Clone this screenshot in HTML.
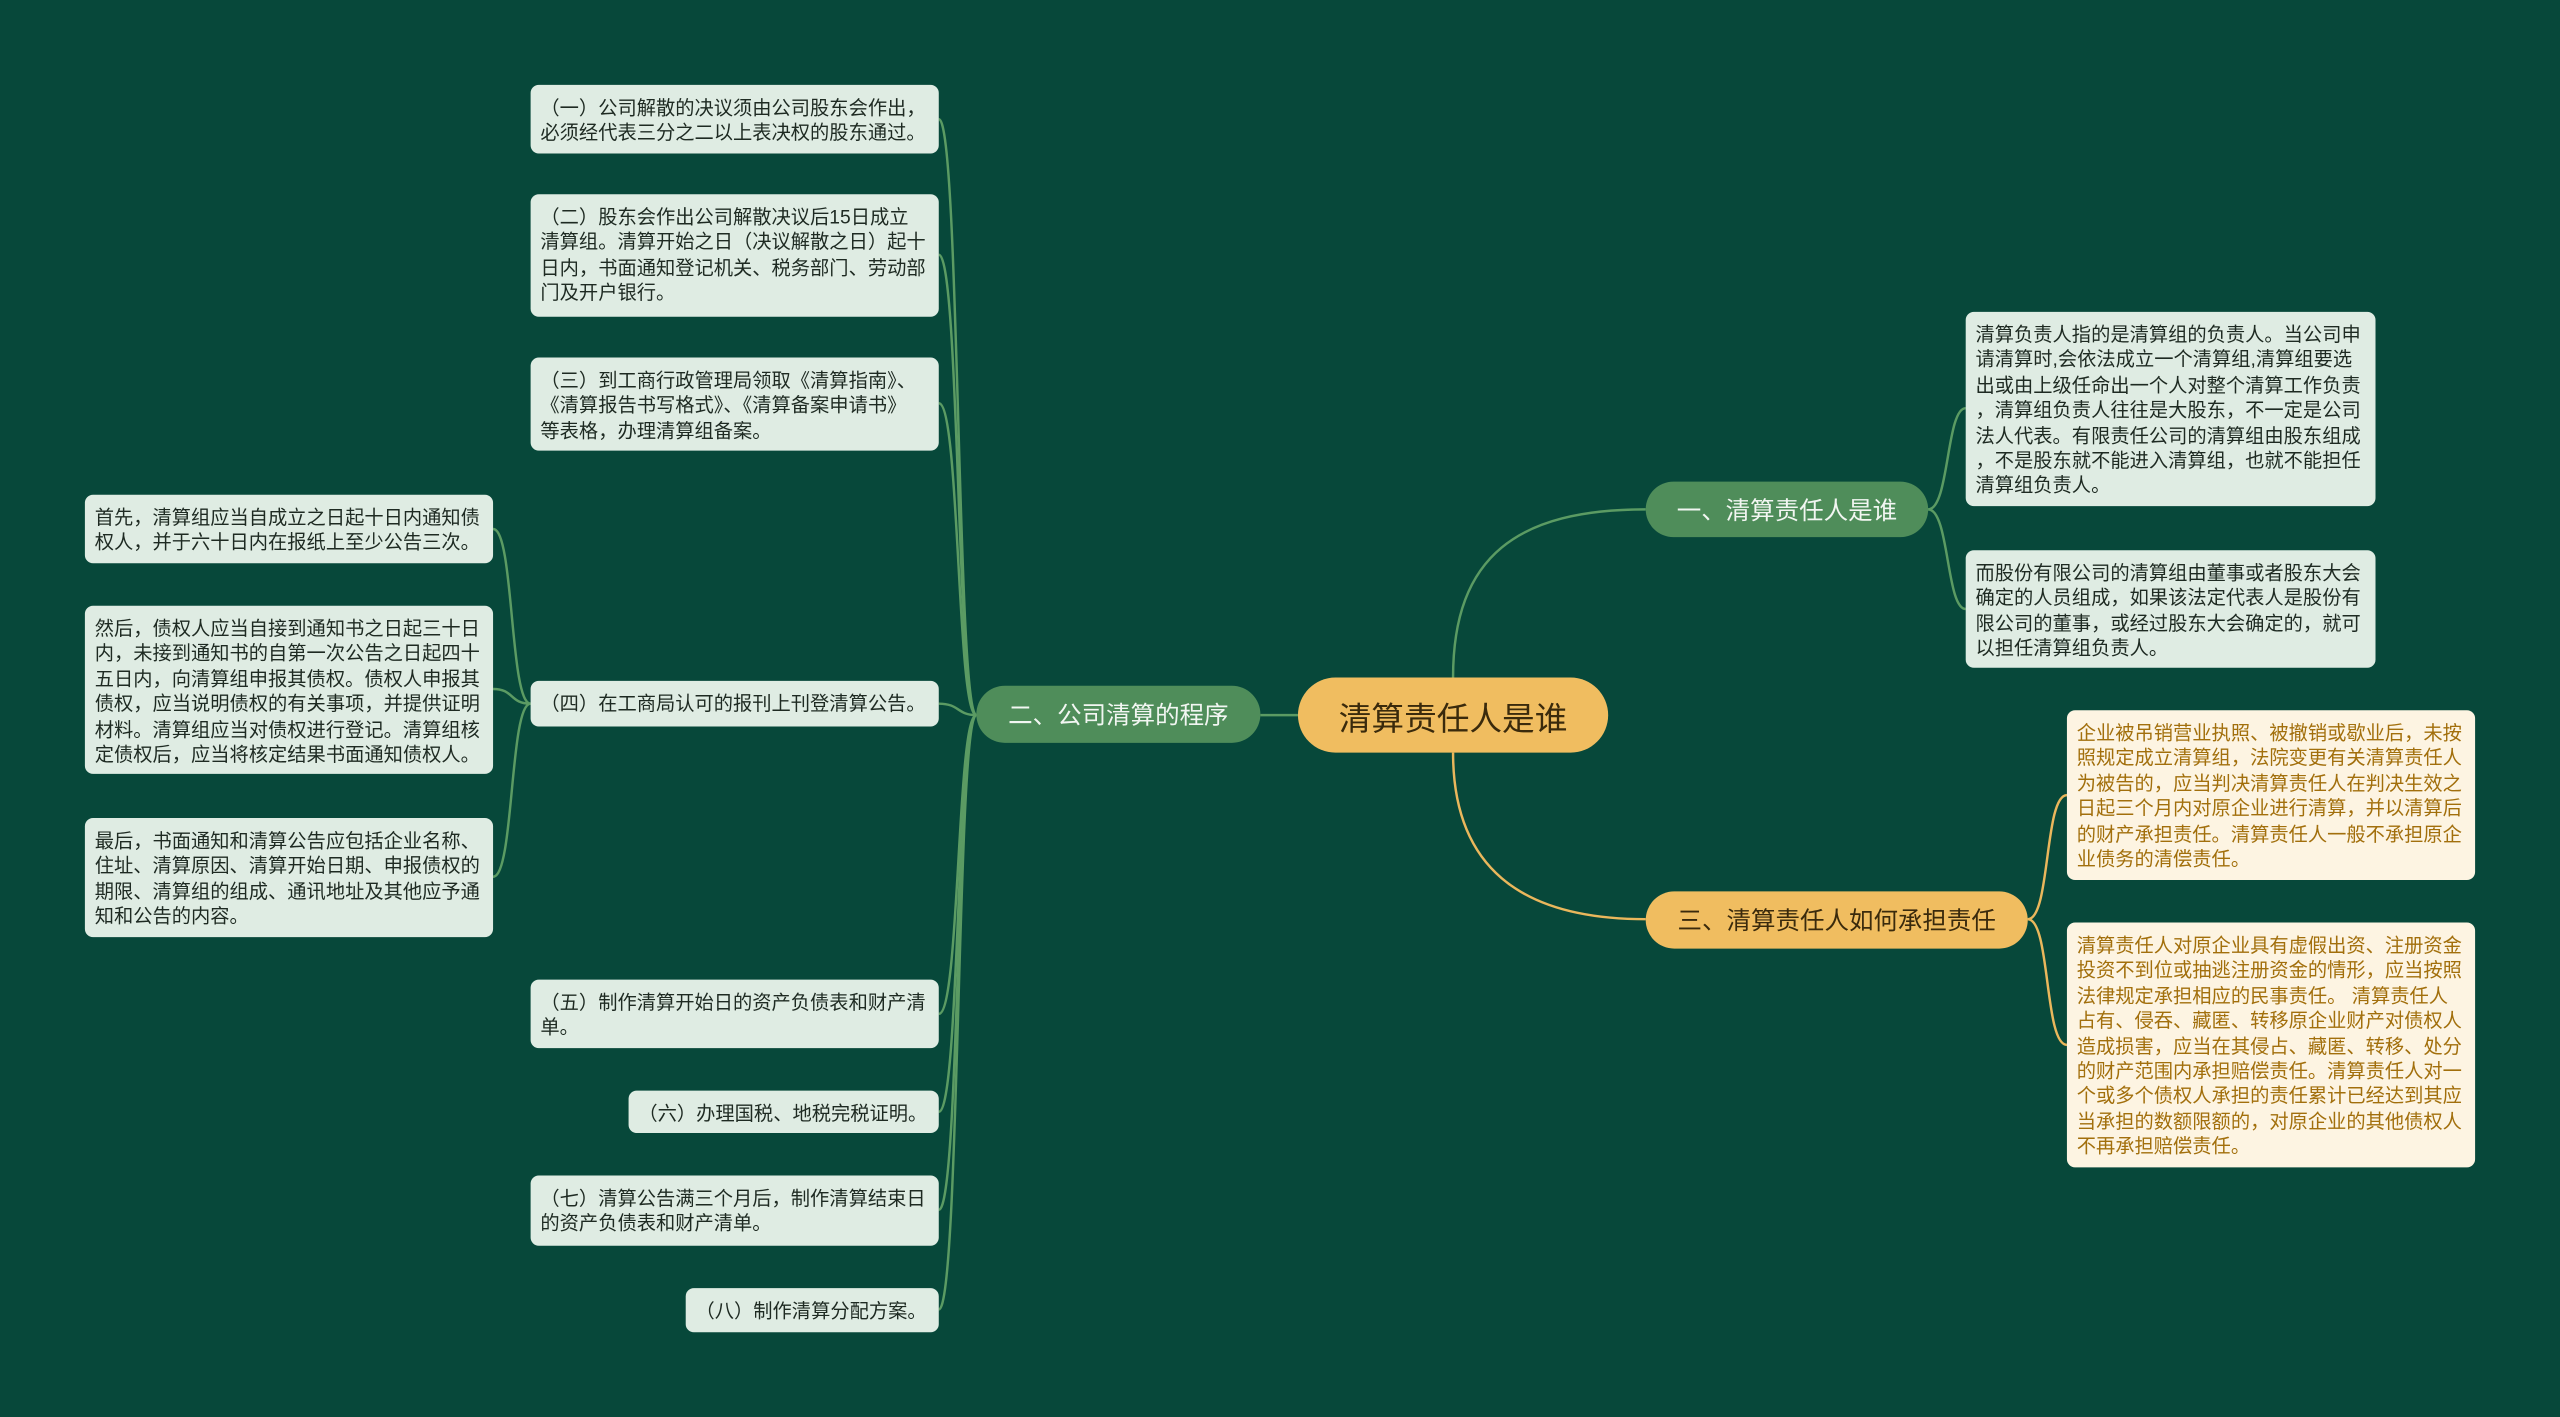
<!DOCTYPE html>
<html><head><meta charset="utf-8"><style>
html,body{margin:0;padding:0;width:2560px;height:1417px;overflow:hidden;background:#07483a;}
#w{position:absolute;left:0;top:0;width:1568px;height:868px;transform:scale(1.63265);transform-origin:0 0;font-family:"Liberation Sans","Noto Sans CJK SC",sans-serif;}
svg{position:absolute;left:0;top:0;}
.n{position:absolute;box-sizing:border-box;border-radius:5px;font-size:11.8px;line-height:15.4px;padding:7px 6px 5px;white-space:nowrap;}
.g{background:#dfece3;color:#1e2a22;}
.o{background:#fdf4e2;color:#a26f0c;}
.b{position:absolute;box-sizing:border-box;border-radius:18px;display:flex;align-items:center;justify-content:center;white-space:nowrap;}
.bg{background:#4f8d5a;color:#f2f6f2;font-size:15px;}
.bo{background:#f0bd60;color:#3a2a0c;font-size:15px;}
</style></head><body><div id="w">
<svg width="1568" height="868" fill="none" stroke-width="1.5">
<g stroke="#5b9b63">
<path d="M890 415 C890 340 930 312 1008 312"/>
<path d="M795 438 L772 438"/>
<path d="M1181 312 C1194 312 1192 250 1204 250"/>
<path d="M1181 312 C1194 312 1192 373 1204 373"/>
<path d="M598 438 C586 438 588 73 575 73"/>
<path d="M598 438 C586 438 588 156 575 156"/>
<path d="M598 438 C586 438 588 247 575 247"/>
<path d="M598 438 C586 438 588 431 575 431"/>
<path d="M598 438 C586 438 588 621 575 621"/>
<path d="M598 438 C586 438 588 681 575 681"/>
<path d="M598 438 C586 438 588 741 575 741"/>
<path d="M598 438 C586 438 588 802 575 802"/>
<path d="M325 431 C312 431 315 324 302 324"/>
<path d="M325 431 C312 431 315 422 302 422"/>
<path d="M325 431 C312 431 315 537 302 537"/>
</g>
<g stroke="#eab75c">
<path d="M890 461 C890 530 930 563 1008 563"/>
<path d="M1242 563 C1256 563 1252 487 1266 487"/>
<path d="M1242 563 C1256 563 1252 640 1266 640"/>
</g>
</svg>
<div class="b bo" style="left:795px;top:415px;width:190px;height:46px;border-radius:23px;font-size:20px;">清算责任人是谁</div>
<div class="b bg" style="left:1008px;top:295px;width:173px;height:34px;">一、清算责任人是谁</div>
<div class="b bo" style="left:1008px;top:546px;width:234px;height:35px;">三、清算责任人如何承担责任</div>
<div class="b bg" style="left:598px;top:420px;width:174px;height:35px;">二、公司清算的程序</div>

<div class="n g" style="left:1204px;top:191px;width:251px;height:119px;">清算负责人指的是清算组的负责人。当公司申<br>请清算时,会依法成立一个清算组,清算组要选<br>出或由上级任命出一个人对整个清算工作负责<br>，清算组负责人往往是大股东，不一定是公司<br>法人代表。有限责任公司的清算组由股东组成<br>，不是股东就不能进入清算组，也就不能担任<br>清算组负责人。</div>
<div class="n g" style="left:1204px;top:337px;width:251px;height:72px;">而股份有限公司的清算组由董事或者股东大会<br>确定的人员组成，如果该法定代表人是股份有<br>限公司的董事，或经过股东大会确定的，就可<br>以担任清算组负责人。</div>
<div class="n o" style="left:1266px;top:435px;width:250px;height:104px;">企业被吊销营业执照、被撤销或歇业后，未按<br>照规定成立清算组，法院变更有关清算责任人<br>为被告的，应当判决清算责任人在判决生效之<br>日起三个月内对原企业进行清算，并以清算后<br>的财产承担责任。清算责任人一般不承担原企<br>业债务的清偿责任。</div>
<div class="n o" style="left:1266px;top:565px;width:250px;height:150px;">清算责任人对原企业具有虚假出资、注册资金<br>投资不到位或抽逃注册资金的情形，应当按照<br>法律规定承担相应的民事责任。 清算责任人<br>占有、侵吞、藏匿、转移原企业财产对债权人<br>造成损害，应当在其侵占、藏匿、转移、处分<br>的财产范围内承担赔偿责任。清算责任人对一<br>个或多个债权人承担的责任累计已经达到其应<br>当承担的数额限额的，对原企业的其他债权人<br>不再承担赔偿责任。</div>

<div class="n g" style="left:325px;top:52px;width:250px;height:42px;">（一）公司解散的决议须由公司股东会作出，<br>必须经代表三分之二以上表决权的股东通过。</div>
<div class="n g" style="left:325px;top:119px;width:250px;height:75px;">（二）股东会作出公司解散决议后15日成立<br>清算组。清算开始之日（决议解散之日）起十<br>日内，书面通知登记机关、税务部门、劳动部<br>门及开户银行。</div>
<div class="n g" style="left:325px;top:219px;width:250px;height:57px;">（三）到工商行政管理局领取《清算指南》、<br>《清算报告书写格式》、《清算备案申请书》<br>等表格，办理清算组备案。</div>
<div class="n g" style="left:325px;top:417px;width:250px;height:28px;">（四）在工商局认可的报刊上刊登清算公告。</div>
<div class="n g" style="left:52px;top:303px;width:250px;height:42px;">首先，清算组应当自成立之日起十日内通知债<br>权人，并于六十日内在报纸上至少公告三次。</div>
<div class="n g" style="left:52px;top:371px;width:250px;height:103px;">然后，债权人应当自接到通知书之日起三十日<br>内，未接到通知书的自第一次公告之日起四十<br>五日内，向清算组申报其债权。债权人申报其<br>债权，应当说明债权的有关事项，并提供证明<br>材料。清算组应当对债权进行登记。清算组核<br>定债权后，应当将核定结果书面通知债权人。</div>
<div class="n g" style="left:52px;top:501px;width:250px;height:73px;">最后，书面通知和清算公告应包括企业名称、<br>住址、清算原因、清算开始日期、申报债权的<br>期限、清算组的组成、通讯地址及其他应予通<br>知和公告的内容。</div>
<div class="n g" style="left:325px;top:600px;width:250px;height:42px;">（五）制作清算开始日的资产负债表和财产清<br>单。</div>
<div class="n g" style="left:385px;top:668px;width:190px;height:26px;">（六）办理国税、地税完税证明。</div>
<div class="n g" style="left:325px;top:720px;width:250px;height:43px;">（七）清算公告满三个月后，制作清算结束日<br>的资产负债表和财产清单。</div>
<div class="n g" style="left:420px;top:789px;width:155px;height:27px;">（八）制作清算分配方案。</div>
</div></body></html>
